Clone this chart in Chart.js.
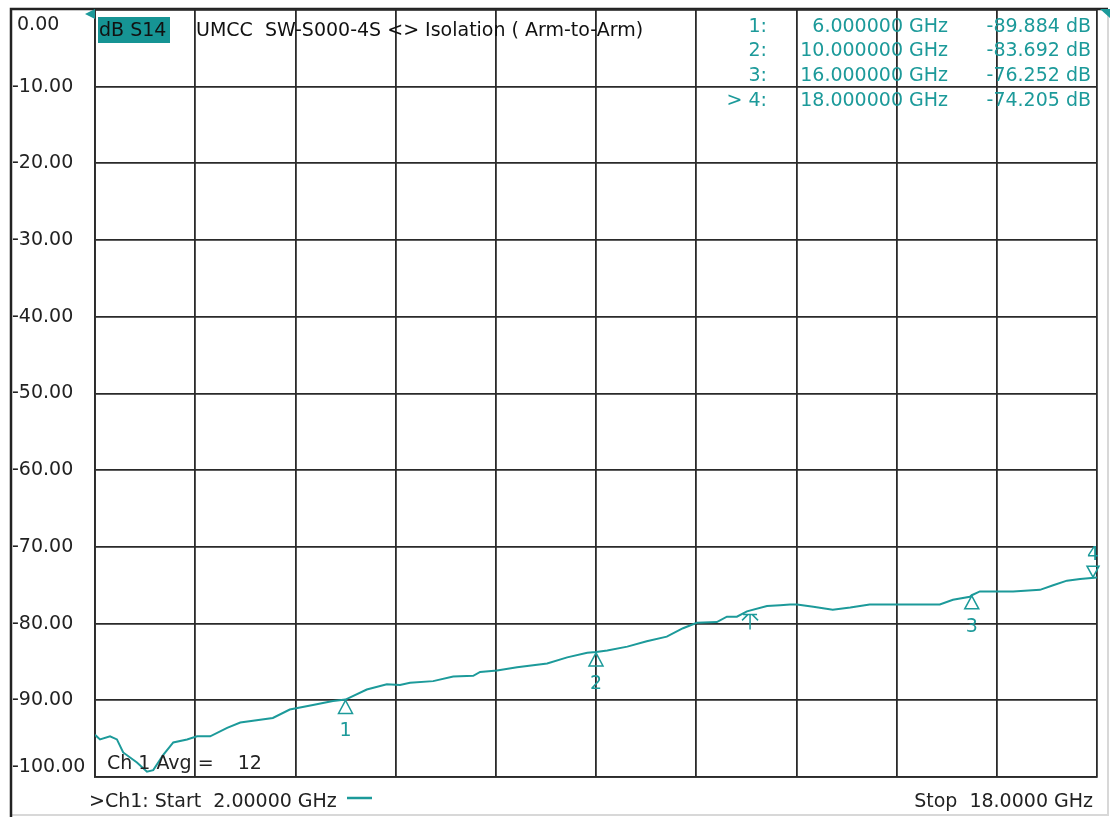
<!DOCTYPE html>
<html>
<head>
  <meta charset="utf-8">
  <title>S14 Isolation</title>
  <script src="https://cdn.jsdelivr.net/npm/chart.js@4.4.1/dist/chart.umd.min.js"></script>
  <style>
    html, body { margin: 0; padding: 0; background: #fff; }
    #wrap { width: 1118px; height: 817px; position: relative; }
  </style>
</head>
<body>
  <div id="wrap"><canvas id="c"></canvas></div>

  <script>
    // trace data (GHz / dB)
    var freqs = [2.00, 2.08, 2.24, 2.35, 2.45, 2.67, 2.83, 2.93, 3.09, 3.25, 3.47, 3.63, 3.84, 4.11, 4.32,
      4.84, 5.11, 5.48, 5.80, 6.00, 6.34, 6.66, 6.87, 7.03, 7.40, 7.72, 8.04, 8.15, 8.42, 8.74,
      9.22, 9.54, 9.86, 10.00, 10.18, 10.50, 10.81, 11.13, 11.39, 11.61, 11.93, 12.09, 12.25, 12.41,
      12.73, 12.94, 13.10, 13.21, 13.47, 13.78, 14.06, 14.37, 15.49, 15.70, 15.97, 16.00, 16.13,
      16.66, 17.09, 17.30, 17.52, 17.73, 18.00];
    var s14 = [-94.5, -95.1, -94.7, -95.1, -96.8, -98.1, -99.3, -99.1, -97.1, -95.5, -95.1, -94.7, -94.7, -93.6, -92.9,
      -92.3, -91.2, -90.6, -90.1, -89.9, -88.6, -87.9, -88.0, -87.7, -87.5, -86.9, -86.8, -86.3, -86.1, -85.7,
      -85.2, -84.4, -83.8, -83.7, -83.5, -83.0, -82.3, -81.7, -80.6, -79.9, -79.8, -79.1, -79.1, -78.4,
      -77.7, -77.6, -77.5, -77.5, -77.8, -78.2, -77.9, -77.5, -77.5, -76.9, -76.5, -76.3, -75.8,
      -75.8, -75.6, -75.0, -74.4, -74.2, -74.0];

    // markers
    var mkNames = ['1', '2', '3', '4'];
    var mkFreq = [6, 10, 16, 18];
    var mkDb = [-89.884, -83.692, -76.252, -74.205];
    var mkFreqText = ['6.000000 GHz', '10.000000 GHz', '16.000000 GHz', '18.000000 GHz'];
    var mkDbText = ['-89.884 dB', '-83.692 dB', '-76.252 dB', '-74.205 dB'];
    var refMarker = { f: 12.46, db: -78.8 };

    var yTicks = [0, -10, -20, -30, -40, -50, -60, -70, -80, -90, -100];
    var yTickLabels = ['0.00', '-10.00', '-20.00', '-30.00', '-40.00', '-50.00', '-60.00', '-70.00', '-80.00', '-90.00', '-100.00'];
    var xStart = 2, xStop = 18, xDiv = 10;

    var TEAL = '#1c9a9a';
    var FONT = '19px "DejaVu Sans", sans-serif';

    function pts() {
      var out = [];
      for (var i = 0; i < freqs.length; i++) out.push({ x: freqs[i], y: s14[i] });
      return out;
    }

    var frame = {
      id: 'frame',
      beforeDraw: function (chart) {
        var c = chart.ctx;
        c.save();
        c.fillStyle = '#fff';
        c.fillRect(0, 0, chart.width, chart.height);
        c.strokeStyle = '#d8d8d8';
        c.lineWidth = 2;
        c.beginPath();
        c.moveTo(1108, 9); c.lineTo(1108, 815); c.lineTo(10, 815);
        c.stroke();
        c.strokeStyle = '#222';
        c.lineWidth = 2.5;
        c.beginPath();
        c.moveTo(11, 817); c.lineTo(11, 9); c.lineTo(1108, 9);
        c.stroke();
        c.restore();
      },
      afterDraw: function (chart) {
        var c = chart.ctx, xs = chart.scales.x, ys = chart.scales.y;
        c.save();
        c.textBaseline = 'middle';
        c.font = FONT;

        // y labels, kept inside the plot height like the analyzer does
        c.fillStyle = '#222';
        c.textAlign = 'left';
        for (var t = 0; t < yTicks.length; t++) {
          var ty = ys.getPixelForValue(yTicks[t]);
          ty = Math.min(Math.max(ty, ys.top + 15), ys.bottom - 10);
          c.fillText(yTickLabels[t], yTicks[t] === 0 ? 17 : 12, ty);
        }

        // reference level flags
        c.fillStyle = TEAL;
        c.beginPath(); c.moveTo(85, 14); c.lineTo(95, 9); c.lineTo(95, 19); c.closePath(); c.fill();
        c.beginPath(); c.moveTo(1100, 9); c.lineTo(1110, 9); c.lineTo(1110, 18); c.closePath(); c.fill();

        // title
        c.fillStyle = '#169494';
        c.fillRect(98, 17, 72, 26);
        c.fillStyle = '#111';
        c.fillText('dB S14', 99, 31);
        c.fillText('UMCC  SW-S000-4S <> Isolation ( Arm-to-Arm)', 196, 31);

        // marker table
        var rowsY = [27, 51, 76, 101];
        c.fillStyle = TEAL;
        for (var i = 0; i < mkNames.length; i++) {
          c.textAlign = 'right';
          c.fillText((i === 3 ? '> ' : '') + mkNames[i] + ':', 767, rowsY[i]);
          c.fillText(mkFreqText[i], 948, rowsY[i]);
          c.fillText(mkDbText[i], 1091, rowsY[i]);
        }

        // marker symbols on the trace
        c.strokeStyle = TEAL;
        c.lineWidth = 1.5;
        c.textAlign = 'center';
        for (var k = 0; k < mkFreq.length; k++) {
          var px = xs.getPixelForValue(mkFreq[k]);
          var py = ys.getPixelForValue(mkDb[k]);
          c.beginPath();
          if (k === 3) {
            px -= 4;
            c.moveTo(px, py - 2); c.lineTo(px - 6, py - 13); c.lineTo(px + 6, py - 13); c.closePath();
            c.stroke();
            c.fillText(mkNames[k], px, py - 24);
          } else {
            c.moveTo(px, py + 1); c.lineTo(px - 7, py + 14); c.lineTo(px + 7, py + 14); c.closePath();
            c.stroke();
            c.fillText(mkNames[k], px, py + 32);
          }
        }
        // reference marker
        var rx = xs.getPixelForValue(refMarker.f), ry = ys.getPixelForValue(refMarker.db);
        c.beginPath();
        c.moveTo(rx, ry + 15); c.lineTo(rx, ry);
        c.moveTo(rx - 7, ry); c.lineTo(rx + 7, ry);
        c.moveTo(rx + 2, ry); c.lineTo(rx + 8, ry + 6);
        c.moveTo(rx - 2, ry); c.lineTo(rx - 8, ry + 6);
        c.stroke();

        // channel annotations
        c.fillStyle = '#222';
        c.textAlign = 'left';
        c.fillText('Ch 1 Avg =    12', 107, 764);
        c.fillText('>Ch1: Start  2.00000 GHz', 89, 802);
        c.textAlign = 'right';
        c.fillText('Stop  18.0000 GHz', 1093, 802);
        c.strokeStyle = TEAL;
        c.lineWidth = 2.5;
        c.beginPath(); c.moveTo(347, 798); c.lineTo(372, 798); c.stroke();
        c.restore();
      }
    };

    new Chart(document.getElementById('c'), {
      type: 'line',
      data: {
        datasets: [{
          label: 'S14',
          data: pts(),
          borderColor: TEAL,
          borderWidth: 2,
          pointRadius: 0,
          tension: 0,
          fill: false
        }]
      },
      options: {
        responsive: true,
        maintainAspectRatio: false,
        animation: false,
        layout: { padding: { left: 12, top: 10, right: 21, bottom: 40 } },
        plugins: { legend: { display: false }, tooltip: { enabled: false } },
        scales: {
          x: {
            type: 'linear',
            min: xStart, max: xStop,
            ticks: { display: false, stepSize: (xStop - xStart) / xDiv },
            grid: { color: '#2a2a2a', lineWidth: 1.8, drawTicks: false },
            border: { color: '#2a2a2a', width: 1.8 }
          },
          y: {
            min: yTicks[yTicks.length - 1], max: yTicks[0],
            ticks: { display: false, stepSize: 10 },
            afterFit: function (s) { s.width = 83; },
            grid: { color: '#2a2a2a', lineWidth: 1.8, drawTicks: false },
            border: { color: '#2a2a2a', width: 1.8 }
          }
        }
      },
      plugins: [frame]
    });
  </script>
</body>
</html>
